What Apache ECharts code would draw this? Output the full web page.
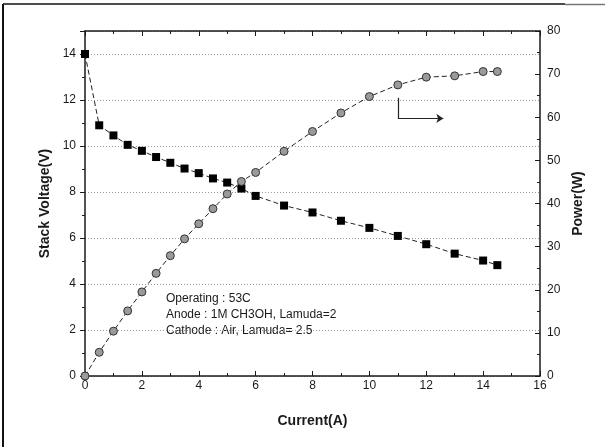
<!DOCTYPE html>
<html>
<head>
<meta charset="utf-8">
<script src="https://cdn.jsdelivr.net/npm/echarts@6/dist/echarts.min.js"></script>
<style>
  html, body { margin: 0; padding: 0; background: #fff; }
  #chart { width: 605px; height: 447px; }
</style>
</head>
<body>
<div id="chart"></div>
<script>
// current (A)
const current = [0, 0.5, 1, 1.5, 2, 2.5, 3, 3.5, 4, 4.5, 5, 5.5, 6, 7, 8, 9, 10, 11, 12, 13, 14, 14.5]
// stack voltage (V), left axis
const voltage = [14.0, 10.9, 10.46, 10.05, 9.79, 9.52, 9.27, 9.02, 8.82, 8.59, 8.41, 8.15, 7.83, 7.41, 7.11, 6.75, 6.44, 6.09, 5.73, 5.32, 5.02, 4.82]
// power (W), right axis
const power = [0, 5.5, 10.4, 15.1, 19.5, 23.8, 27.9, 31.8, 35.3, 38.8, 42.2, 45.1, 47.2, 52.1, 56.7, 61.0, 64.8, 67.5, 69.3, 69.6, 70.6, 70.6]
// arrow pointing to the power axis (current, voltage)
const arrowDown = [[11, 12.1], [11, 11.2]]
const arrowRight = [[11, 11.2], [12.6, 11.2]]
const notes = ['Operating : 53C', 'Anode : 1M CH3OH, Lamuda=2', 'Cathode : Air, Lamuda= 2.5']

const font = 'Liberation Sans, Arial, sans-serif'
const ink = '#1a1a1a'

let myChart = echarts.init(document.getElementById('chart'))

const tickStyle = { color: ink, width: 1 }
const labelStyle = { color: ink, fontFamily: font, fontSize: 12 }
const nameStyle = { color: ink, fontFamily: font, fontSize: 14, fontWeight: 'bold' }
const lineOn = { show: true, onZero: false, lineStyle: { color: ink, width: 1.5 } }

let option = {
  animation: false,
  backgroundColor: '#fff',
  grid: { left: 85, right: 65, top: 31, bottom: 71 },
  xAxis: [
    {
      type: 'value', min: 0, max: 16, interval: 2,
      name: 'Current(A)', nameLocation: 'middle', nameGap: 38, nameTextStyle: nameStyle,
      axisLine: lineOn,
      axisTick: { show: true, inside: true, length: 5, lineStyle: tickStyle },
      minorTick: { show: true, splitNumber: 2, length: 3, lineStyle: tickStyle },
      axisLabel: Object.assign({ margin: 4 }, labelStyle),
      splitLine: { show: false }
    },
    {
      type: 'value', min: 0, max: 16, interval: 2, position: 'top',
      axisLine: lineOn,
      axisTick: { show: true, inside: true, length: 5, lineStyle: tickStyle },
      minorTick: { show: true, splitNumber: 2, length: 3, lineStyle: tickStyle },
      axisLabel: { show: false },
      splitLine: { show: false }
    }
  ],
  yAxis: [
    {
      type: 'value', min: 0, max: 15, interval: 2,
      name: 'Stack Voltage(V)', nameLocation: 'middle', nameGap: 33, nameTextStyle: nameStyle,
      axisLine: lineOn,
      axisTick: { show: true, inside: false, length: 5, lineStyle: tickStyle },
      minorTick: { show: true, splitNumber: 2, length: 3, lineStyle: tickStyle },
      axisLabel: Object.assign({ margin: 9, showMaxLabel: false }, labelStyle),
      splitLine: { show: true, lineStyle: { color: '#9a9a9a', type: [1, 2], width: 1 } }
    },
    {
      type: 'value', min: 0, max: 80, interval: 10,
      name: 'Power(W)', nameLocation: 'middle', nameGap: 31, nameTextStyle: nameStyle,
      axisLine: lineOn,
      axisTick: { show: true, inside: true, length: 5, lineStyle: tickStyle },
      minorTick: { show: true, splitNumber: 2, length: 3, lineStyle: tickStyle },
      axisLabel: Object.assign({ margin: 7 }, labelStyle),
      splitLine: { show: false }
    }
  ],
  graphic: [
    { type: 'line', shape: { x1: 3, y1: 4, x2: 3, y2: 447 }, style: { stroke: '#111', lineWidth: 2 } },
    { type: 'line', shape: { x1: 3, y1: 4, x2: 565, y2: 4 }, style: { stroke: '#111', lineWidth: 1.5 } },
    { type: 'line', shape: { x1: 565, y1: 4.5, x2: 605, y2: 4.5 }, style: { stroke: '#777', lineWidth: 1.5 } },
    {
      type: 'text', left: 166, top: 291,
      style: { text: notes.join('\n'), fill: ink, font: '12px ' + font, lineHeight: 16 }
    }
  ],
  series: [
    {
      name: 'Voltage', type: 'line', xAxisIndex: 0, yAxisIndex: 0,
      data: current.map((c, i) => [c, voltage[i]]),
      symbol: 'rect', symbolSize: 8,
      itemStyle: { color: '#000' },
      lineStyle: { color: '#222', width: 1, type: [5, 3] },
      z: 3
    },
    {
      name: 'Power', type: 'line', xAxisIndex: 0, yAxisIndex: 1,
      data: current.map((c, i) => [c, power[i]]),
      symbol: 'circle', symbolSize: 8,
      itemStyle: { color: '#9a9a9a', borderColor: '#333', borderWidth: 1 },
      lineStyle: { color: '#222', width: 1, type: [5, 3] },
      z: 4
    },
    {
      type: 'lines', coordinateSystem: 'cartesian2d', xAxisIndex: 0, yAxisIndex: 0,
      data: [
        { coords: arrowDown, symbol: ['none', 'none'] },
        { coords: arrowRight, symbol: ['none', 'arrow'] }
      ],
      symbol: ['none', 'arrow'], symbolSize: 7,
      lineStyle: { color: '#222', width: 1.2, opacity: 1 },
      z: 2
    }
  ]
}

myChart.setOption(option)
</script>
</body>
</html>
